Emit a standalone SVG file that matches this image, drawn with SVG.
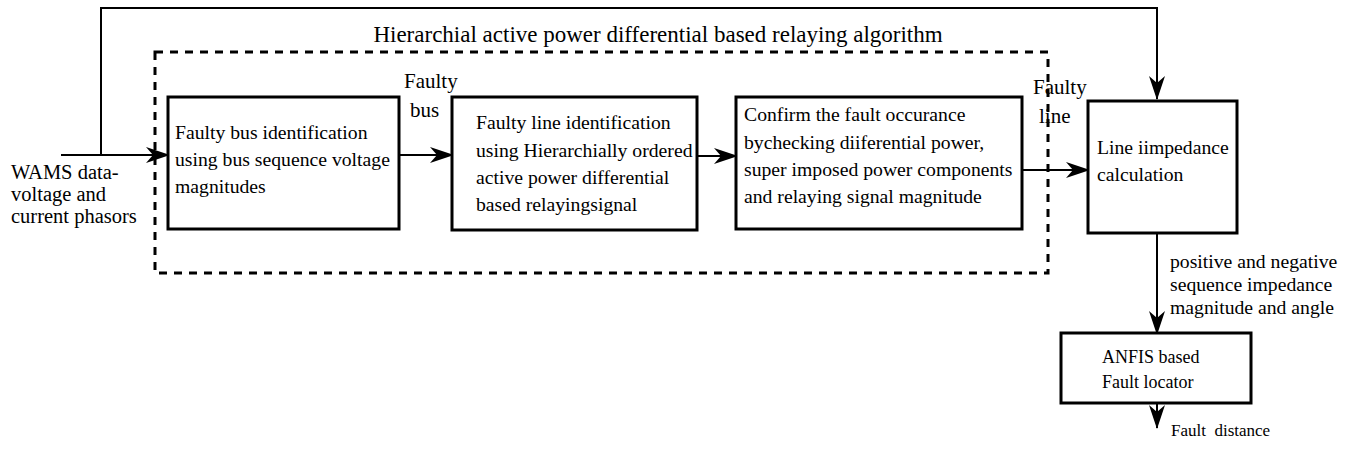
<svg xmlns="http://www.w3.org/2000/svg" width="1353" height="453" viewBox="0 0 1353 453">
<style>
.box{fill:#fff;stroke:#000;stroke-width:3}
.t{font-family:"Liberation Serif",serif;font-size:19.7px;fill:#000}
.c{fill:none;stroke:#000;stroke-width:2}
.dash{fill:none;stroke:#000;stroke-width:3;stroke-dasharray:8 7}
</style>
<defs>
<marker id="ah" viewBox="0 0 24 16" refX="23" refY="8" markerWidth="24" markerHeight="16" markerUnits="userSpaceOnUse" orient="auto">
<path d="M0,0 L24,8 L0,16 L7,8 Z" fill="#000"/>
</marker>
</defs>
<rect class="dash" x="155" y="52" width="893" height="221"/>
<text class="t" style="font-size:23px" x="658" y="42" text-anchor="middle">Hierarchial active power differential based relaying algorithm</text>
<g id="connectors">
<path class="c" d="M101,155 V8 H1157 V99" marker-end="url(#ah)"/>
<path class="c" d="M61,155 H169" marker-end="url(#ah)"/>
<path class="c" d="M399,155 H453" marker-end="url(#ah)"/>
<path class="c" d="M697,156 H737" marker-end="url(#ah)"/>
<path class="c" d="M1012,170 H1089" marker-end="url(#ah)"/>
<path class="c" d="M1157,233 V334" marker-end="url(#ah)"/>
<path class="c" d="M1157,403 V428" marker-end="url(#ah)"/>
</g>
<g id="input">
<text class="t" style="font-size:20.5px" x="11" y="179">WAMS data-</text>
<text class="t" style="font-size:20.5px" x="11" y="201">voltage and</text>
<text class="t" style="font-size:20.5px" x="11" y="223">current phasors</text>
</g>
<g id="box1">
<rect class="box" x="168" y="97" width="231" height="132"/>
<text class="t" x="175" y="139">Faulty bus identification</text>
<text class="t" x="175" y="166">using bus sequence voltage</text>
<text class="t" x="175" y="193">magnitudes</text>
</g>
<g id="lbl-faultybus">
<text class="t" style="font-size:21px" x="404" y="88">Faulty</text>
<text class="t" style="font-size:21px" x="410" y="117">bus</text>
</g>
<g id="box2">
<rect class="box" x="452" y="97" width="245" height="133"/>
<text class="t" x="476" y="129">Faulty line identification</text>
<text class="t" x="476" y="157">using Hierarchially ordered</text>
<text class="t" x="476" y="184">active power differential</text>
<text class="t" x="476" y="211">based relayingsignal</text>
</g>
<g id="box3">
<rect class="box" x="736" y="97" width="286" height="132"/>
<text class="t" x="744" y="121">Confirm the fault occurance</text>
<text class="t" x="744" y="149">bychecking diiferential power,</text>
<text class="t" x="744" y="176">super imposed power components</text>
<text class="t" x="744" y="203">and relaying signal magnitude</text>
</g>
<g id="lbl-faultyline">
<text class="t" style="font-size:21px" x="1033" y="94">Faulty</text>
<text class="t" style="font-size:21px" x="1039" y="123">line</text>
</g>
<g id="box4">
<rect class="box" x="1088" y="101" width="149" height="132"/>
<text class="t" x="1097" y="154">Line iimpedance</text>
<text class="t" x="1097" y="181">calculation</text>
</g>
<g id="lbl-seq">
<text class="t" x="1170" y="268">positive and negative</text>
<text class="t" x="1170" y="291">sequence impedance</text>
<text class="t" x="1170" y="314">magnitude and angle</text>
</g>
<g id="box5">
<rect class="box" x="1061" y="333" width="190" height="70"/>
<text class="t" style="font-size:18px" x="1102" y="363">ANFIS based</text>
<text class="t" style="font-size:18px" x="1102" y="388">Fault locator</text>
</g>
<g id="lbl-dist">
<text class="t" style="font-size:17px;white-space:pre" x="1171" y="436">Fault  distance</text>
</g>
</svg>
